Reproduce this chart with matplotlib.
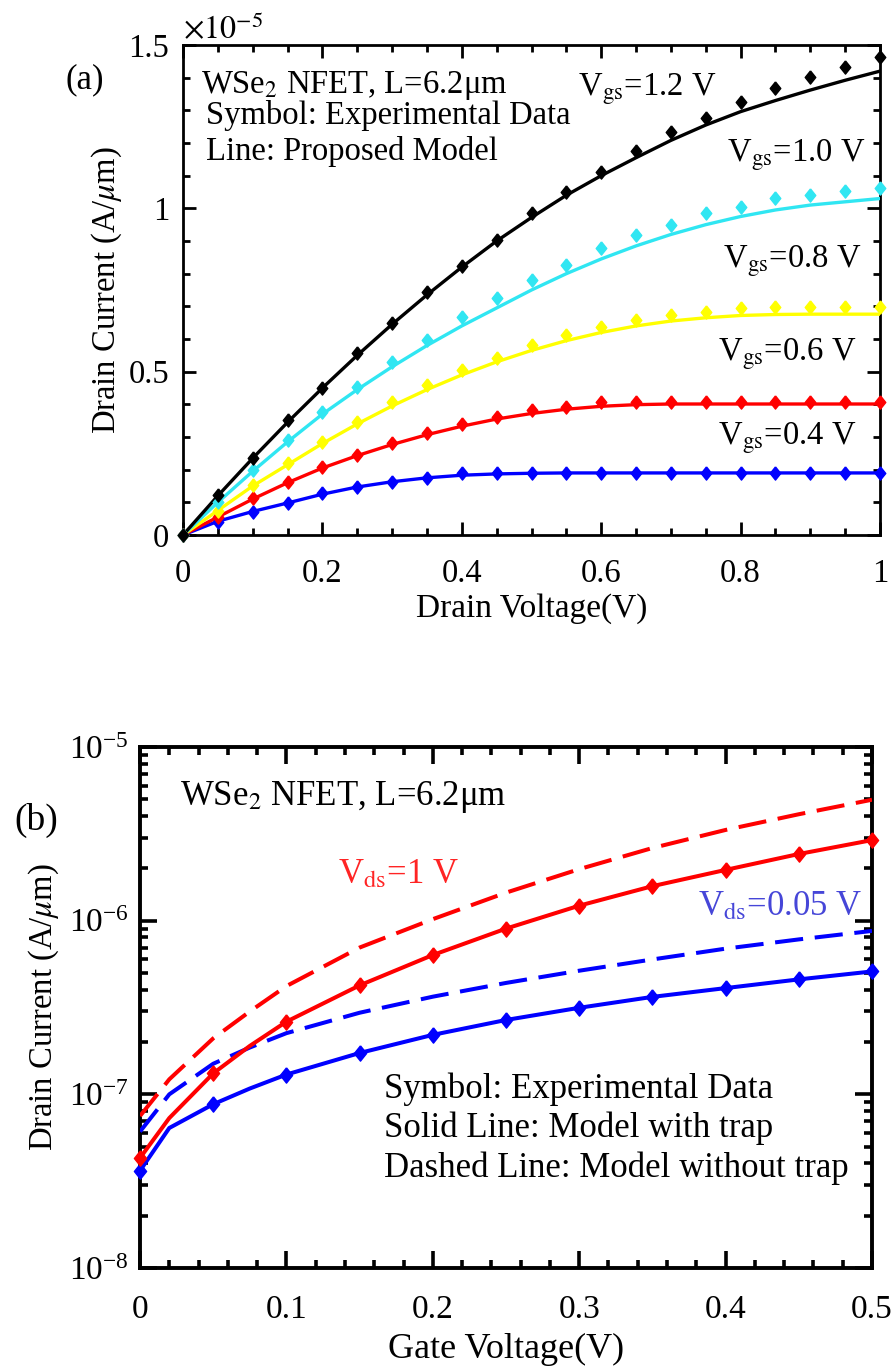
import matplotlib
matplotlib.use("Agg")
import matplotlib.pyplot as plt
from matplotlib.ticker import FixedLocator, MultipleLocator, LogLocator, NullFormatter

plt.rcParams['font.family'] = ['Liberation Serif', 'DejaVu Serif']
plt.rcParams['mathtext.fontset'] = 'stix'

# ---------------- Panel (a) data (units of 1e-5 A/um) ----------------
vd = [0, 0.05, 0.1, 0.15, 0.2, 0.25, 0.3, 0.35, 0.4, 0.45, 0.5,
      0.55, 0.6, 0.65, 0.7, 0.75, 0.8, 0.85, 0.9, 0.95, 1.0]

exp_12 = [0, 0.122, 0.237, 0.352, 0.451, 0.556, 0.648, 0.745, 0.824, 0.903, 0.985,
          1.049, 1.112, 1.176, 1.235, 1.278, 1.327, 1.367, 1.403, 1.434, 1.464]
mod_12 = [0, 0.120, 0.235, 0.345, 0.450, 0.550, 0.645, 0.735, 0.820, 0.900, 0.972,
          1.040, 1.100, 1.155, 1.208, 1.255, 1.296, 1.330, 1.362, 1.392, 1.420]

exp_10 = [0, 0.100, 0.199, 0.291, 0.378, 0.454, 0.531, 0.597, 0.668, 0.724, 0.781,
          0.827, 0.878, 0.918, 0.949, 0.985, 1.005, 1.031, 1.041, 1.053, 1.061]
mod_10 = [0, 0.100, 0.195, 0.285, 0.370, 0.445, 0.515, 0.580, 0.640, 0.695, 0.750,
          0.800, 0.845, 0.885, 0.920, 0.950, 0.975, 0.995, 1.010, 1.020, 1.030]

exp_08 = [0, 0.075, 0.153, 0.219, 0.286, 0.347, 0.408, 0.459, 0.505, 0.541, 0.582,
          0.612, 0.638, 0.658, 0.673, 0.684, 0.694, 0.699, 0.699, 0.699, 0.699]
mod_08 = [0, 0.075, 0.150, 0.215, 0.280, 0.340, 0.395, 0.445, 0.490, 0.530, 0.565,
          0.595, 0.620, 0.640, 0.655, 0.665, 0.672, 0.675, 0.676, 0.676, 0.676]

exp_06 = [0, 0.055, 0.112, 0.163, 0.209, 0.245, 0.281, 0.311, 0.339, 0.362, 0.383,
          0.393, 0.406, 0.406, 0.406, 0.406, 0.406, 0.406, 0.406, 0.406, 0.406]
mod_06 = [0, 0.055, 0.110, 0.160, 0.205, 0.243, 0.277, 0.307, 0.333, 0.355, 0.372,
          0.385, 0.394, 0.399, 0.401, 0.401, 0.401, 0.401, 0.401, 0.401, 0.401]

exp_04 = [0, 0.041, 0.071, 0.097, 0.128, 0.148, 0.163, 0.173, 0.190, 0.190, 0.190,
          0.190, 0.190, 0.190, 0.190, 0.190, 0.190, 0.190, 0.190, 0.190, 0.190]
mod_04 = [0, 0.042, 0.072, 0.098, 0.125, 0.147, 0.163, 0.175, 0.183, 0.187, 0.189,
          0.190, 0.190, 0.190, 0.190, 0.190, 0.190, 0.190, 0.190, 0.190, 0.190]

a_series = [
    ("0.4", exp_04, mod_04, "#0000ff"),
    ("0.6", exp_06, mod_06, "#ff0000"),
    ("0.8", exp_08, mod_08, "#ffff00"),
    ("1.0", exp_10, mod_10, "#30e6f2"),
    ("1.2", exp_12, mod_12, "#000000"),
]
a_xticks = [0, 0.2, 0.4, 0.6, 0.8, 1.0]
a_xticklabels = ["0", "0.2", "0.4", "0.6", "0.8", "1"]
a_yticks = [0, 0.5, 1.0, 1.5]
a_yticklabels = ["0", "0.5", "1", "1.5"]

# ---------------- Panel (b) data ----------------
vg = [0, 0.05, 0.1, 0.15, 0.2, 0.25, 0.3, 0.35, 0.4, 0.45, 0.5]
exp_vds1 = [4.3e-8, 1.32e-7, 2.62e-7, 4.24e-7, 6.34e-7, 9.0e-7, 1.22e-6, 1.58e-6, 1.96e-6, 2.42e-6, 2.91e-6]
exp_vds005 = [3.63e-8, 8.77e-8, 1.30e-7, 1.73e-7, 2.20e-7, 2.68e-7, 3.15e-7, 3.64e-7, 4.09e-7, 4.59e-7, 5.10e-7]

vg_model = [0, 0.02, 0.05, 0.075, 0.1, 0.15, 0.2, 0.25, 0.3, 0.35, 0.4, 0.45, 0.5]
trap_vds1 = [4.3e-8, 7.3e-8, 1.32e-7, 1.9e-7, 2.62e-7, 4.24e-7, 6.34e-7, 9.0e-7,
             1.22e-6, 1.58e-6, 1.96e-6, 2.42e-6, 2.91e-6]
trap_vds005 = [3.63e-8, 6.4e-8, 8.77e-8, 1.08e-7, 1.30e-7, 1.73e-7, 2.20e-7, 2.68e-7,
               3.15e-7, 3.64e-7, 4.09e-7, 4.59e-7, 5.10e-7]
notrap_vds1 = [7.5e-8, 1.22e-7, 2.10e-7, 3.0e-7, 4.2e-7, 7.0e-7, 1.02e-6, 1.45e-6,
               1.98e-6, 2.62e-6, 3.33e-6, 4.10e-6, 4.97e-6]
notrap_vds005 = [6.1e-8, 1.0e-7, 1.5e-7, 1.86e-7, 2.25e-7, 2.95e-7, 3.65e-7, 4.38e-7,
                 5.15e-7, 5.98e-7, 6.9e-7, 7.8e-7, 8.73e-7]

b_xticks = [0, 0.1, 0.2, 0.3, 0.4, 0.5]
b_xticklabels = ["0", "0.1", "0.2", "0.3", "0.4", "0.5"]

# slightly tall diamond marker (like the original's symbols)
DIAMOND = [(0, 1), (0.8, 0), (0, -1), (-0.8, 0), (0, 1)]

fig = plt.figure(figsize=(8.96, 13.70), dpi=100)

# ================= Panel (a) =================
FA_T = 23.5
axa = fig.add_axes([183/896, 1-535/1370, (880-183)/896, 490/1370])
for name, ex, md, col in a_series:
    axa.plot(vd, md, color=col, lw=2.4, zorder=3)
    axa.plot(vd, ex, linestyle='none', marker=DIAMOND, ms=9.5, color=col,
             clip_on=False, zorder=4)
axa.set_xlim(0, 1)
axa.set_ylim(0, 1.5)
axa.xaxis.set_major_locator(FixedLocator(a_xticks))
axa.set_xticklabels(a_xticklabels)
axa.xaxis.set_minor_locator(MultipleLocator(0.05))
axa.yaxis.set_major_locator(FixedLocator(a_yticks))
axa.set_yticklabels(a_yticklabels)
axa.yaxis.set_minor_locator(MultipleLocator(0.1))
axa.tick_params(which='both', direction='in', top=True, right=True, labelsize=23.5, width=2)
axa.tick_params(which='major', length=9.5)
axa.tick_params(which='minor', length=5)
axa.tick_params(axis='x', which='major', pad=17)
axa.tick_params(axis='y', which='major', pad=10)
for s in axa.spines.values():
    s.set_linewidth(2)
axa.set_xlabel("Drain Voltage(V)", fontsize=24, labelpad=3)
axa.set_ylabel(r"Drain Current (A/$\mu$m)", fontsize=23.5, labelpad=3)
axa.text(0.0, 1.0, r"$\times 10^{-5}$", transform=axa.transAxes, fontsize=23,
         ha='left', va='bottom')
fig.text(85/896, 1-80/1370, "(a)", fontsize=25, ha='center', va='center')

axa.text(0.026, 0.918, "WSe$_2$ NFET, L=6.2\u03bcm", transform=axa.transAxes,
         fontsize=FA_T, ha='left', va='center')
axa.text(0.033, 0.857, "Symbol: Experimental Data", transform=axa.transAxes,
         fontsize=FA_T, ha='left', va='center')
axa.text(0.033, 0.782, "Line: Proposed Model", transform=axa.transAxes,
         fontsize=FA_T, ha='left', va='center')
a_labels = [("1.2", 0.566, 0.909), ("1.0", 0.781, 0.776), ("0.8", 0.775, 0.558),
            ("0.6", 0.768, 0.368), ("0.4", 0.768, 0.198)]
for v, x, y in a_labels:
    axa.text(x, y, r"V$_{\rm gs}$=" + v + " V", transform=axa.transAxes,
             fontsize=FA_T, ha='left', va='center')

# ================= Panel (b) =================
FB_T = 25
axb = fig.add_axes([140/896, 1-1268/1370, (872-140)/896, (1268-747)/1370])
axb.set_yscale('log')
dash = (0, (7, 2.9))
LWB = 2.9
axb.plot(vg_model, notrap_vds1, color='#ff0000', lw=LWB, ls=dash, zorder=3)
axb.plot(vg_model, notrap_vds005, color='#0000ff', lw=LWB, ls=dash, zorder=3)
axb.plot(vg_model, trap_vds005, color='#0000ff', lw=LWB, zorder=3)
axb.plot(vg_model, trap_vds1, color='#ff0000', lw=LWB, zorder=3)
axb.plot(vg, exp_vds005, linestyle='none', marker=DIAMOND, ms=11, color='#0000ff',
         clip_on=False, zorder=4)
axb.plot(vg, exp_vds1, linestyle='none', marker=DIAMOND, ms=11, color='#ff0000',
         clip_on=False, zorder=4)
axb.set_xlim(0, 0.5)
axb.set_ylim(1e-8, 1e-5)
axb.xaxis.set_major_locator(FixedLocator(b_xticks))
axb.set_xticklabels(b_xticklabels)
axb.xaxis.set_minor_locator(MultipleLocator(0.02))
axb.yaxis.set_major_locator(LogLocator(base=10, numticks=10))
axb.yaxis.set_minor_locator(LogLocator(base=10, subs=range(2, 10), numticks=20))
axb.yaxis.set_minor_formatter(NullFormatter())
axb.tick_params(which='both', direction='in', top=True, right=True, labelsize=24, width=2.6)
axb.tick_params(which='major', length=12)
axb.tick_params(which='minor', length=6)
axb.tick_params(axis='x', which='major', pad=19)
axb.tick_params(axis='y', which='major', pad=8)
for s in axb.spines.values():
    s.set_linewidth(2.8)
axb.set_xlabel("Gate Voltage(V)", fontsize=26, labelpad=6)
axb.set_ylabel(r"Drain Current (A/$\mu$m)", fontsize=23.5, labelpad=6)
fig.text(36/896, 1-820/1370, "(b)", fontsize=27, ha='center', va='center')

axb.text(0.055, 0.904, "WSe$_2$ NFET, L=6.2\u03bcm", transform=axb.transAxes,
         fontsize=FB_T, ha='left', va='center')
axb.text(0.135, 1.85e-6, r"V$_{\rm ds}$=1 V", color='#ff2424', fontsize=FB_T,
         ha='left', va='center')
axb.text(0.381, 1.21e-6, r"V$_{\rm ds}$=0.05 V", color='#4646d8', fontsize=FB_T,
         ha='left', va='center')
axb.text(0.167, 1.07e-7, "Symbol: Experimental Data", fontsize=FB_T, ha='left', va='center')
axb.text(0.167, 6.35e-8, "Solid Line: Model with trap", fontsize=FB_T, ha='left', va='center')
axb.text(0.167, 3.75e-8, "Dashed Line: Model without trap", fontsize=FB_T, ha='left', va='center')

fig.savefig("out.png", dpi=100)
